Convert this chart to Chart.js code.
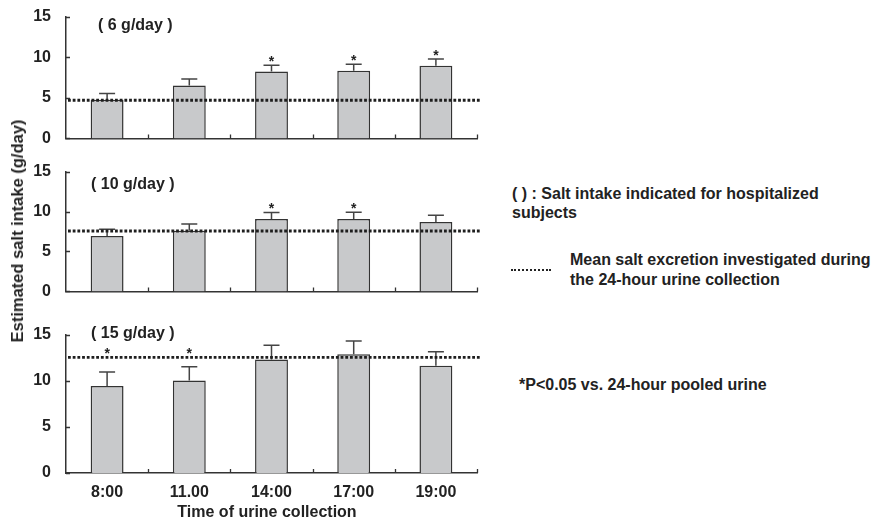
<!DOCTYPE html>
<html><head><meta charset="utf-8">
<script src="https://cdn.jsdelivr.net/npm/chart.js@4.4.1/dist/chart.umd.min.js"></script>
<style>
html,body{margin:0;padding:0;background:#fff;}
body{width:871px;height:521px;position:relative;overflow:hidden;font-family:"Liberation Sans",Arial,Helvetica,sans-serif;font-weight:bold;color:#222;}
canvas{position:absolute;left:0;}
.t{position:absolute;white-space:nowrap;font-size:16px;line-height:20px;}
.dots{position:absolute;left:511px;top:269px;width:40px;height:0;border-top:2.5px dotted #222;}
</style></head><body>
<canvas id="c0" width="485" height="155" style="top:0px"></canvas>
<canvas id="c1" width="485" height="153" style="top:155px"></canvas>
<canvas id="c2" width="485" height="213" style="top:308px"></canvas>
<div class="t" id="ytitle" style="left:17px;top:231px;font-size:16.5px;transform:translate(-50%,-50%) rotate(-90deg);"></div>
<div class="t" id="xtitle" style="left:267px;top:502px;transform:translateX(-50%);"></div>
<div class="t" id="n1" style="left:512px;top:184px;"></div>
<div class="t" id="n2" style="left:512px;top:203px;"></div>
<div class="dots"></div>
<div class="t" id="n3" style="left:570px;top:250px;"></div>
<div class="t" id="n4" style="left:570px;top:270px;"></div>
<div class="t" id="n5" style="left:519px;top:375px;"></div>
<script>
// ---- data ----
const categories = ['8:00', '11.00', '14:00', '17:00', '19:00'];
const intakeLabels = ['( 6 g/day )', '( 10 g/day )', '( 15 g/day )'];
const yTicks = [0, 5, 10, 15];

const mean6  = [4.75, 6.50, 8.23, 8.33, 8.95];
const err6   = [0.79, 0.80, 0.79, 0.80, 0.83];
const sig6   = [false, false, true, true, true];
const pooled6 = 4.70;

const mean10 = [6.95, 7.58, 9.08, 9.08, 8.68];
const err10  = [0.84, 0.87, 0.80, 0.83, 0.84];
const sig10  = [false, false, true, true, false];
const pooled10 = 7.56;

const mean15 = [9.45, 10.05, 12.35, 12.90, 11.65];
const err15  = [1.52, 1.49, 1.53, 1.45, 1.52];
const sig15  = [true, true, false, false, false];
const pooled15 = 12.57;

const yTitle = 'Estimated salt intake (g/day)';
const xTitle = 'Time of urine collection';
const notes = ['( ) : Salt intake indicated for hospitalized', 'subjects',
  'Mean salt excretion investigated during', 'the 24-hour urine collection',
  '*P<0.05 vs. 24-hour pooled urine'];

// ---- text ----
document.getElementById('ytitle').textContent = yTitle;
document.getElementById('xtitle').textContent = xTitle;
notes.forEach((s, i) => document.getElementById('n' + (i + 1)).textContent = s);
const titlePos = [[98, 15], [91, 174], [91, 323]];
intakeLabels.forEach((s, i) => {
  const d = document.createElement('div');
  d.className = 't';
  d.style.left = titlePos[i][0] + 'px';
  d.style.top = titlePos[i][1] + 'px';
  d.textContent = s;
  document.body.appendChild(d);
});

// ---- chart ----
const FONT = '"Liberation Sans", Arial, Helvetica, sans-serif';
Chart.defaults.font.family = FONT;
Chart.defaults.font.weight = 'bold';
Chart.defaults.color = '#222';

const overlay = {
  id: 'overlay',
  afterDatasetsDraw(chart, args, o) {
    const { ctx, chartArea: a, scales: { x, y } } = chart;
    const meta = chart.getDatasetMeta(0);
    ctx.save();
    // error bars
    ctx.strokeStyle = '#444';
    ctx.lineWidth = 1.5;
    meta.data.forEach((bar, i) => {
      const top = y.getPixelForValue(o.means[i] + o.errs[i]);
      const base = y.getPixelForValue(o.means[i]);
      ctx.beginPath();
      ctx.moveTo(bar.x, base); ctx.lineTo(bar.x, top);
      ctx.moveTo(bar.x - 8, top); ctx.lineTo(bar.x + 8, top);
      ctx.stroke();
    });
    // pooled line
    const py = y.getPixelForValue(o.pooled);
    ctx.strokeStyle = '#1e1e1e';
    ctx.lineWidth = 2.8;
    ctx.setLineDash([2.8, 1.9]);
    ctx.beginPath();
    ctx.moveTo(a.left + 2, py); ctx.lineTo(a.right + 3, py);
    ctx.stroke();
    ctx.setLineDash([]);
    // stars
    ctx.fillStyle = '#222';
    ctx.font = 'bold 14px ' + FONT;
    ctx.textAlign = 'center';
    ctx.textBaseline = 'alphabetic';
    meta.data.forEach((bar, i) => {
      if (!o.sig[i]) return;
      const v = Math.max(o.means[i] + o.errs[i], o.pooled);
      ctx.fillText('*', bar.x, y.getPixelForValue(v) + 1);
    });
    ctx.restore();
  },
  afterDraw(chart) {
    const { ctx, chartArea: a, scales: { x, y } } = chart;
    ctx.save();
    ctx.strokeStyle = '#333';
    ctx.lineWidth = 1.3;
    ctx.beginPath();
    yTicks.forEach(v => {
      const py = Math.round(y.getPixelForValue(v)) + 0.5;
      ctx.moveTo(a.left, py); ctx.lineTo(a.left + 4, py);
    });
    const half = (x.getPixelForValue(1) - x.getPixelForValue(0)) / 2;
    categories.forEach((c, i) => {
      const px = Math.round(x.getPixelForValue(i) + half) + 0.5;
      ctx.moveTo(px, a.bottom); ctx.lineTo(px, a.bottom - 4);
    });
    ctx.stroke();
    ctx.restore();
  }
};

const panels = [
  { id: 'c0', means: mean6, errs: err6, sig: sig6, pooled: pooled6, padTop: 13, xh: 4, showX: false },
  { id: 'c1', means: mean10, errs: err10, sig: sig10, pooled: pooled10, padTop: 11, xh: 4, showX: false },
  { id: 'c2', means: mean15, errs: err15, sig: sig15, pooled: pooled15, padTop: 27, xh: 48, showX: true },
];

panels.forEach(p => {
  new Chart(document.getElementById(p.id), {
    type: 'bar',
    data: {
      labels: categories,
      datasets: [{
        data: p.means,
        backgroundColor: '#c8c9cb',
        borderColor: '#333',
        borderWidth: 1.5,
        borderSkipped: 'bottom',
        categoryPercentage: 1,
        barPercentage: 0.40
      }]
    },
    options: {
      responsive: false,
      animation: false,
      devicePixelRatio: 1,
      layout: { padding: { top: p.padTop, right: 8, left: 0, bottom: 0 } },
      plugins: { legend: { display: false }, tooltip: { enabled: false }, overlay: p },
      scales: {
        x: {
          offset: true,
          grid: { display: false },
          border: { display: true, color: '#333', width: 1.5 },
          ticks: { display: p.showX, font: { size: 16, weight: 'bold' }, color: '#222', padding: 2, maxRotation: 0 },
          afterFit(s) { s.height = p.xh; }
        },
        y: {
          min: 0, max: 15,
          grid: { display: false },
          border: { display: true, color: '#333', width: 1.5 },
          ticks: { stepSize: 5, font: { size: 16, weight: 'bold' }, color: '#222', padding: 7 },
          afterFit(s) { s.width = 66; }
        }
      }
    },
    plugins: [overlay]
  });
});
</script>
</body></html>
